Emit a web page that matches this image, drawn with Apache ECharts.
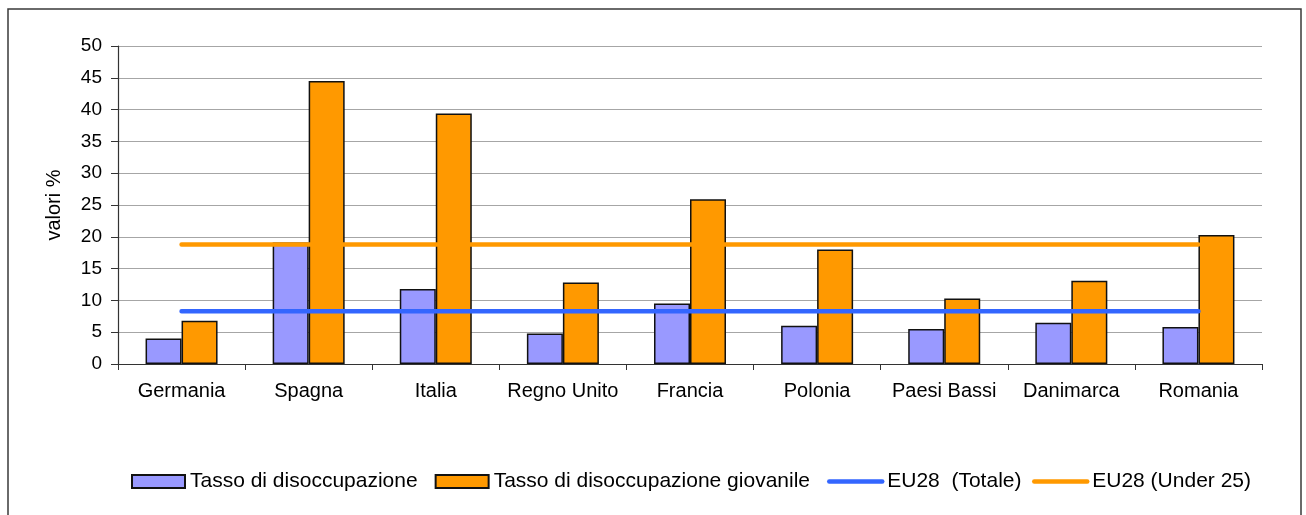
<!DOCTYPE html>
<html>
<head>
<meta charset="utf-8">
<script src="https://cdn.jsdelivr.net/npm/echarts@6/dist/echarts.min.js"></script>
<style>
  html, body { margin: 0; padding: 0; background: #fff; }
  #main { width: 1306px; height: 515px; }
</style>
</head>
<body>
<div id="main"></div>
<script>
// data
var categories = ['Germania', 'Spagna', 'Italia', 'Regno Unito', 'Francia', 'Polonia', 'Paesi Bassi', 'Danimarca', 'Romania'];
var tassoDisoccupazione = [4.0, 19.1, 11.8, 4.8, 9.5, 6.0, 5.5, 6.5, 5.8];
var tassoGiovanile = [6.8, 44.5, 39.4, 12.8, 25.9, 18.0, 10.3, 13.1, 20.3];
var eu28Totale = [8.3, 8.3, 8.3, 8.3, 8.3, 8.3, 8.3, 8.3, 8.3];
var eu28Under25 = [18.8, 18.8, 18.8, 18.8, 18.8, 18.8, 18.8, 18.8, 18.8];
var yTicks = [0, 5, 10, 15, 20, 25, 30, 35, 40, 45, 50];

var FONT = "'Liberation Sans', Arial, sans-serif";

var chartDom = document.getElementById('main');
var myChart = echarts.init(chartDom, null, { renderer: 'canvas' });

function legendBox(left, data) {
    return {
        left: left,
        top: 471,
        padding: 0,
        itemWidth: 53,
        itemHeight: 13,
        itemGap: 17,
        textStyle: { fontFamily: FONT, fontSize: 21, color: '#000' },
        data: data
    };
}

var option = {
    animation: false,
    backgroundColor: '#ffffff',
    textStyle: { fontFamily: FONT, color: '#000' },
    graphic: [
        {
            type: 'rect',
            shape: { x: 8, y: 9, width: 1293, height: 600 },
            style: { fill: null, stroke: '#3a3a3a', lineWidth: 1.5 },
            silent: true
        }
    ],
    grid: {
        left: 118,
        right: 44,
        top: 46,
        bottom: 151,
        containLabel: false
    },
    legend: [
        legendBox(131, [
            { name: 'Tasso di disoccupazione', icon: 'rect' },
            { name: 'Tasso di disoccupazione giovanile', icon: 'rect' },
            {
                name: 'EU28  (Totale)',
                itemStyle: { opacity: 0 },
                lineStyle: { width: 4.5, cap: 'round', color: '#3366ff' }
            }
        ]),
        legendBox(1032, [
            {
                name: 'EU28 (Under 25)',
                itemStyle: { opacity: 0 },
                lineStyle: { width: 4.5, cap: 'round', color: '#ff9900' }
            }
        ])
    ],
    xAxis: {
        type: 'category',
        data: categories,
        boundaryGap: true,
        axisLine: { lineStyle: { color: '#333', width: 1.2 } },
        axisTick: { show: true, length: 6, lineStyle: { color: '#333' } },
        axisLabel: { fontFamily: FONT, fontSize: 20, color: '#000', margin: 17, interval: 0 },
        splitLine: { show: false }
    },
    yAxis: {
        type: 'value',
        min: yTicks[0],
        max: yTicks[yTicks.length - 1],
        interval: 5,
        name: 'valori %',
        nameLocation: 'middle',
        nameGap: 54,
        nameRotate: 90,
        nameTextStyle: { fontFamily: FONT, fontSize: 20, color: '#000' },
        axisLine: { show: true, lineStyle: { color: '#333', width: 1.2 } },
        axisTick: { show: true, length: 7, lineStyle: { color: '#333' } },
        axisLabel: { fontFamily: FONT, fontSize: 19, color: '#000', margin: 16 },
        splitLine: { show: true, lineStyle: { color: '#a6a6a6', width: 1 } }
    },
    series: [
        {
            name: 'Tasso di disoccupazione',
            type: 'bar',
            data: tassoDisoccupazione,
            barWidth: 36,
            barGap: '0%',
            itemStyle: { color: '#9999ff', borderColor: '#111', borderWidth: 1.5 },
            z: 2
        },
        {
            name: 'Tasso di disoccupazione giovanile',
            type: 'bar',
            data: tassoGiovanile,
            barWidth: 36,
            barGap: '0%',
            itemStyle: { color: '#ff9900', borderColor: '#111', borderWidth: 1.5 },
            z: 2
        },
        {
            name: 'EU28  (Totale)',
            type: 'line',
            data: eu28Totale,
            symbol: 'none',
            showSymbol: false,
            lineStyle: { color: '#3366ff', width: 4.5, cap: 'round' },
            itemStyle: { color: '#3366ff' },
            z: 5
        },
        {
            name: 'EU28 (Under 25)',
            type: 'line',
            data: eu28Under25,
            symbol: 'none',
            showSymbol: false,
            lineStyle: { color: '#ff9900', width: 4.5, cap: 'round' },
            itemStyle: { color: '#ff9900' },
            z: 5
        }
    ]
};

myChart.setOption(option);

window.addEventListener('resize', function () {
    myChart.resize();
});
</script>
</body>
</html>
